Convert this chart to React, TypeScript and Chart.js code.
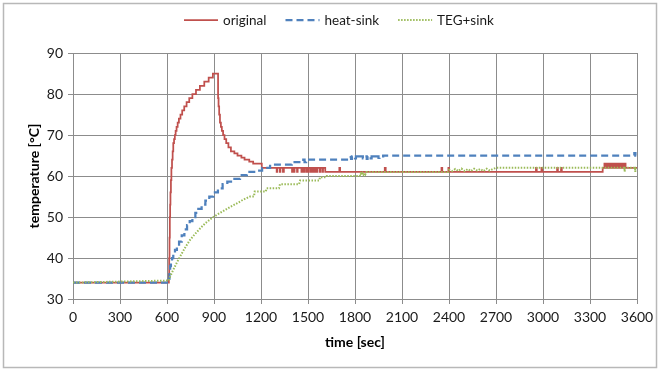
import React, { useEffect, useRef } from "react";
import { Chart, registerables } from "chart.js";

Chart.register(...registerables);

// ---- data ----
const seriesNames = ["original", "heat-sink", "TEG+sink"];
const xMin = 0, xMax = 3600, xStep = 300;
const yMin = 30, yMax = 90, yStep = 10;

const origTime = [
  0, 612, 614, 616, 618, 620, 622, 625, 628, 632, 636, 640, 645, 650, 655, 661, 668, 676, 686, 697, 710, 725, 742, 762,
  785, 810, 838, 866, 893, 926, 929, 933, 938, 944, 950, 958, 967, 978, 992, 1008, 1030, 1050, 1075, 1095, 1125, 1150,
  1205, 1300, 1304, 1320, 1324, 1340, 1346, 1398, 1402, 1410, 1414, 1430, 1434, 1458, 1462, 1470, 1476, 1488, 1492,
  1500, 1506, 1518, 1522, 1532, 1536, 1545, 1549, 1556, 1560, 1575, 1579, 1592, 1596, 1610, 1700, 1705, 1990, 1996,
  2352, 2357, 2396, 2401, 2955, 2960, 2990, 2995, 3090, 3095, 3115, 3120, 3381, 3392, 3398, 3403, 3410, 3415, 3422,
  3428, 3435, 3440, 3448, 3455, 3462, 3468, 3475, 3482, 3490, 3495, 3502, 3508, 3515, 3520, 3527, 3600,
];
const origTemp = [
  34, 36, 40, 45, 50, 53, 56, 59, 62, 64, 66, 68, 69, 70, 71, 72, 73, 74, 75, 76, 77, 78, 79, 80,
  81, 82, 83, 84, 85, 79, 77, 75, 73, 72, 71, 70, 69, 68, 67, 66, 65.5, 65, 64.5, 64, 63.5, 63,
  62, 61, 62, 61, 62, 61, 62, 61, 62, 61, 62, 61, 62, 61, 62, 61, 62, 61, 62,
  61, 62, 61, 62, 61, 62, 61, 62, 61, 62, 61, 62, 61, 62, 61, 62, 61, 62, 61,
  62, 61, 62, 61, 62, 61, 62, 61, 62, 61, 62, 61, 62, 63, 62, 63, 62, 63, 62,
  63, 62, 63, 62, 63, 62, 63, 62, 63, 62, 63, 62, 63, 62, 63, 62, 62,
];

const sinkTime = [
  0, 612, 616, 620, 625, 632, 640, 651, 663, 677, 694, 711, 728, 745, 762, 781, 800, 821, 845, 870, 896, 925, 955, 985,
  1020, 1066, 1110, 1172, 1207, 1258, 1396, 1470, 1478, 1488, 1500, 1757, 1775, 1780, 1800, 1806, 1825, 1830, 1850,
  1856, 1875, 1880, 1900, 1906, 1925, 1930, 1950, 1956, 1980, 3583, 3590, 3600,
];
const sinkTemp = [
  34, 35, 37, 38, 39, 40, 41, 42, 43, 44, 45.5, 47, 48, 49, 50, 51, 52, 53, 54, 55, 56, 57, 58, 58.6,
  59.3, 60.2, 61, 61.3, 62, 62.8, 63.4, 64, 63.4, 64, 64, 64.6, 64.2, 64.8, 64.3, 64.8, 64.2, 64.8, 64.3,
  64.8, 64.2, 64.8, 64.3, 64.8, 64.3, 64.8, 64.4, 64.8, 65, 65.6, 65, 65,
];

const tegTime = [
  0, 612, 620, 630, 640, 655, 670, 683, 700, 720, 747, 775, 811, 845, 885, 925, 970, 1005, 1045, 1085, 1130, 1155,
  1160, 1230, 1236, 1315, 1321, 1443, 1449, 1572, 1577, 1615, 1620, 1830, 1836, 1842, 1848, 1854, 1860, 1866, 1872,
  2395, 2400, 2420, 2440, 2460, 2480, 2500, 2520, 2540, 2560, 2580, 2600, 2620, 2640, 2660, 2680, 2700, 3520, 3521,
  3524, 3588, 3589, 3592, 3600,
];
const tegTemp = [
  34, 34.5, 35.5, 36.3, 37.1, 38.3, 39.4, 40.3, 41.5, 42.8, 44.4, 45.7, 47.2, 48.5, 49.7, 50.7, 51.7, 52.5, 53.3, 54.2, 55, 55,
  56.2, 56.2, 57, 57, 58, 58, 58.9, 58.9, 59.7, 59.7, 60, 60, 60.6, 60.2, 60.7, 60.3, 60.7, 60.4, 61,
  61, 61.5, 61.2, 61.7, 61.2, 61.8, 61.2, 61.7, 61.2, 61.8, 61.3, 61.7, 61.2, 61.8, 61.3, 61.7, 62, 62, 61,
  62, 62, 61, 62, 62,
];

const colors = ["#C0504D", "#4F81BD", "#9BBB59"];
const dashes: number[][] = [[], [7, 4], [1.5, 1.5]];
const widths = [1.75, 2.25, 2];

const FONT = "Lato, 'Open Sans', sans-serif";

export default function App() {
  const ref = useRef<HTMLCanvasElement>(null);

  useEffect(() => {
    if (!ref.current) return;
    const pts = (t: number[], v: number[]) => t.map((x, i) => ({ x, y: v[i] }));

    const decor = {
      id: "decor",
      afterDraw(chart: any) {
        const ctx = chart.ctx as CanvasRenderingContext2D;
        ctx.save();
        // outer frame
        ctx.strokeStyle = "#b8b8b8";
        ctx.lineWidth = 1.5;
        ctx.setLineDash([]);
        ctx.strokeRect(3.5, 3.5, 653, 364);
        // legend
        ctx.font = `13.5px ${FONT}`;
        ctx.textBaseline = "middle";
        ctx.textAlign = "left";
        let x = 184;
        const y = 20;
        seriesNames.forEach((name, i) => {
          ctx.beginPath();
          ctx.strokeStyle = colors[i];
          ctx.lineWidth = widths[i];
          ctx.setLineDash(dashes[i]);
          ctx.moveTo(x, y);
          ctx.lineTo(x + 34, y);
          ctx.stroke();
          ctx.setLineDash([]);
          ctx.fillStyle = "#1a1a1a";
          ctx.fillText(name, x + 39, y + 1);
          x += 39 + ctx.measureText(name).width + 19;
        });
        ctx.restore();
      },
    };

    const plain = (v: any) => String(v);

    const chart = new Chart(ref.current, {
      type: "line",
      data: {
        datasets: [
          {
            label: seriesNames[0],
            data: pts(origTime, origTemp),
            borderColor: colors[0],
            borderWidth: widths[0],
            borderDash: dashes[0],
            stepped: "before",
            pointRadius: 0,
            fill: false,
            order: 2,
          },
          {
            label: seriesNames[1],
            data: pts(sinkTime, sinkTemp),
            borderColor: colors[1],
            borderWidth: widths[1],
            borderDash: dashes[1],
            stepped: "before",
            pointRadius: 0,
            fill: false,
            order: 1,
          },
          {
            label: seriesNames[2],
            data: pts(tegTime, tegTemp),
            borderColor: colors[2],
            borderWidth: widths[2],
            borderDash: dashes[2],
            pointRadius: 0,
            tension: 0,
            fill: false,
            order: 0,
          },
        ],
      },
      options: {
        animation: false,
        responsive: false,
        devicePixelRatio: 1,
        layout: { padding: { left: 8, right: 23, top: 53, bottom: 11 } },
        plugins: { legend: { display: false }, tooltip: { enabled: false } },
        scales: {
          x: {
            type: "linear",
            min: xMin,
            max: xMax,
            afterFit: (s: any) => {
              s.height = 60;
            },
            ticks: {
              stepSize: xStep,
              padding: 5,
              color: "#1a1a1a",
              font: { family: FONT, size: 14 },
              maxRotation: 0,
              callback: plain,
            },
            grid: { color: "#8c8c8c", lineWidth: 1, tickLength: 5, drawTicks: true },
            border: { color: "#8c8c8c" },
            title: {
              display: true,
              text: "time [sec]",
              color: "#000",
              font: { family: FONT, size: 14, weight: "bold" },
              padding: { top: 0, bottom: 8 },
            },
          },
          y: {
            type: "linear",
            min: yMin,
            max: yMax,
            afterFit: (s: any) => {
              s.width = 65;
            },
            ticks: { stepSize: yStep, padding: 5, color: "#1a1a1a", font: { family: FONT, size: 14 }, callback: plain },
            grid: { color: "#8c8c8c", lineWidth: 1, tickLength: 5, drawTicks: true },
            border: { color: "#8c8c8c" },
            title: {
              display: true,
              text: "temperature [°C]",
              color: "#000",
              font: { family: FONT, size: 14, weight: "bold" },
              padding: { top: 18, bottom: 0 },
            },
          },
        },
      },
      plugins: [decor],
    } as any);

    return () => chart.destroy();
  }, []);

  return (
    <div style={{ position: "fixed", left: 0, top: 0, width: 660, height: 370, background: "#fff" }}>
      <canvas ref={ref} width={660} height={370} style={{ display: "block", width: 660, height: 370 }} />
    </div>
  );
}
